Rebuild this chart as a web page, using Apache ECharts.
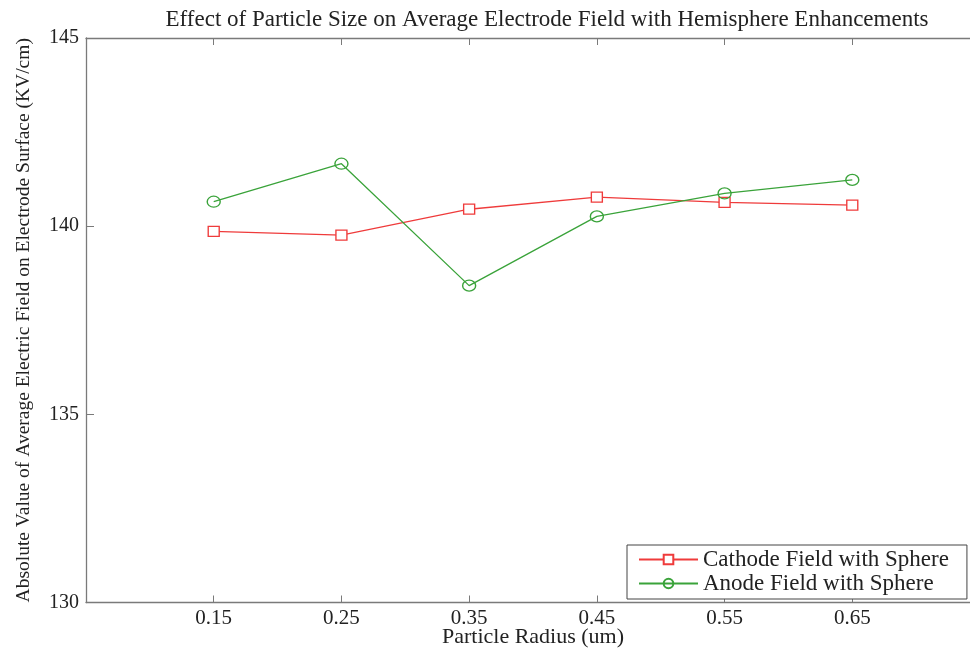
<!DOCTYPE html>
<html><head><meta charset="utf-8">
<script src="https://cdn.jsdelivr.net/npm/echarts@6/dist/echarts.min.js"></script>
<style>html,body{margin:0;padding:0;background:#fff}#c{width:970px;height:654px}</style>
</head><body><div id="c"></div>
<script>
const radius = [0.15, 0.25, 0.35, 0.45, 0.55, 0.65];
const cathode = [139.86, 139.76, 140.45, 140.77, 140.63, 140.56];
const anode = [140.65, 141.66, 138.42, 140.26, 140.87, 141.23];
const xTicks = [0.15, 0.25, 0.35, 0.45, 0.55, 0.65];
const seriesNames = ['Cathode Field with Sphere', 'Anode Field with Sphere'];

const font = 'Liberation Serif';
const axisCol = '#7a7a7a';
const chart = echarts.init(document.getElementById('c'));
const xBase = {
  type: 'value', min: 0.05, max: 0.75,
  axisLine: {show: true, lineStyle: {color: axisCol, width: 1.3}},
  axisTick: {show: true, inside: true, length: 7, customValues: xTicks, lineStyle: {color: axisCol}},
  splitLine: {show: false}
};
const yBase = {
  type: 'value', min: 130, max: 145, interval: 5,
  axisLine: {show: true, lineStyle: {color: axisCol, width: 1.3}},
  axisTick: {show: true, inside: true, length: 8, lineStyle: {color: axisCol}},
  splitLine: {show: false}
};
chart.setOption({
  animation: false,
  backgroundColor: '#fff',
  title: {
    text: 'Effect of Particle Size on Average Electrode Field with Hemisphere Enhancements',
    left: 542, top: 3, textAlign: 'center',
    textStyle: {fontFamily: font, fontSize: 23, fontWeight: 'normal', color: '#222'}
  },
  grid: {left: 86, top: 38, width: 894, height: 564.5, outerBoundsMode: 'none', containLabel: false},
  legend: {
    orient: 'vertical', left: 627, top: 545,
    data: seriesNames,
    itemWidth: 59, itemHeight: 12, itemGap: 1,
    padding: [3, 18, 4, 11],
    borderColor: '#444', borderWidth: 1, backgroundColor: '#fff',
    textStyle: {fontFamily: font, fontSize: 23, color: '#222'}
  },
  xAxis: [
    Object.assign({}, xBase, {
      position: 'bottom',
      name: 'Particle Radius (um)', nameLocation: 'middle', nameGap: 24, nameMoveOverlap: false,
      nameTextStyle: {fontFamily: font, fontSize: 22, color: '#222'},
      axisLabel: {customValues: xTicks, margin: 5, fontFamily: font, fontSize: 21, color: '#222',
        formatter: v => v.toFixed(2)}
    }),
    Object.assign({}, xBase, {position: 'top', axisLabel: {show: false}})
  ],
  yAxis: [
    Object.assign({}, yBase, {
      position: 'left',
      name: 'Absolute Value of Average Electric Field on Electrode Surface (KV/cm)',
      nameLocation: 'middle', nameGap: 52, nameMoveOverlap: false,
      nameTextStyle: {fontFamily: font, fontSize: 19.5, color: '#222'},
      axisLabel: {margin: 7, fontFamily: font, fontSize: 20, color: '#222'}
    }),
    Object.assign({}, yBase, {position: 'right', axisLabel: {show: false}})
  ],
  series: [
    {
      name: seriesNames[0], type: 'line', xAxisIndex: 0, yAxisIndex: 0,
      data: radius.map((r, i) => [r, cathode[i]]),
      symbol: 'rect', symbolSize: [11, 10], showAllSymbol: true,
      itemStyle: {color: '#fff', borderColor: '#ef3b3b', borderWidth: 1.3},
      lineStyle: {color: '#ef3b3b', width: 1.3},
      color: '#ef3b3b'
    },
    {
      name: seriesNames[1], type: 'line', xAxisIndex: 0, yAxisIndex: 0,
      data: radius.map((r, i) => [r, anode[i]]),
      symbol: 'circle', symbolSize: [13, 11], showAllSymbol: true,
      itemStyle: {color: 'rgba(255,255,255,0)', borderColor: '#3aa33a', borderWidth: 1.3},
      lineStyle: {color: '#3aa33a', width: 1.3},
      color: '#3aa33a'
    }
  ]
});
</script></body></html>
